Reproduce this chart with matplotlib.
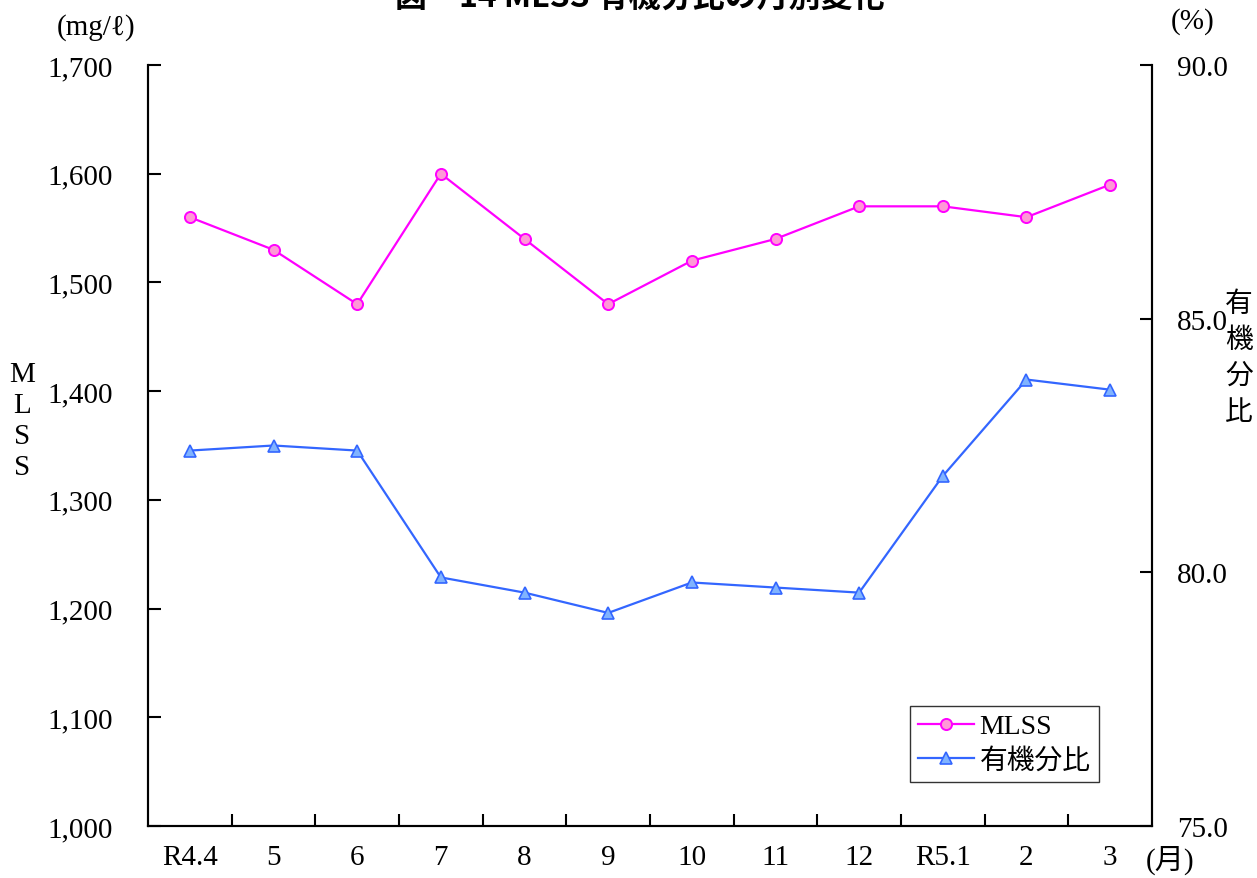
import matplotlib
matplotlib.use("Agg")
from matplotlib import pyplot as plt

plt.rcParams['font.family'] = ['Liberation Serif', 'Noto Sans CJK JP', 'DejaVu Serif']

# monthly data, FY R4 (Apr) .. R5 (Mar)
months = ["R4.4", "5", "6", "7", "8", "9", "10", "11", "12", "R5.1", "2", "3"]
mlss = [1560, 1530, 1480, 1600, 1540, 1480, 1520, 1540, 1570, 1570, 1560, 1590]
organic_ratio = [82.4, 82.5, 82.4, 79.9, 79.6, 79.2, 79.8, 79.7, 79.6, 81.9, 83.8, 83.6]

W, H = 1257, 879
fig = plt.figure(figsize=(W / 100, H / 100), dpi=100)
ax = fig.add_axes([148 / W, (H - 827) / H, 1004 / W, 761 / H])
ax2 = ax.twinx()

x = list(range(len(months)))
l1, = ax.plot(x, mlss, color="#FF00FF", lw=1.6, marker="o", ms=8,
              mfc="#FF99D6", mec="#FF00FF", mew=1.4, label="MLSS")
l2, = ax2.plot(x, organic_ratio, color="#3366FF", lw=1.6, marker="^", ms=8,
               mfc="#80B3FF", mec="#3366FF", mew=1.2, label="有機分比")

ax.set_xlim(-0.5, len(months) - 0.5)
ax.set_ylim(1000, 1700)
ax.set_yticks(range(1000, 1701, 100))
ax.set_yticklabels([f"{v:,}" for v in range(1000, 1701, 100)])
ax2.set_ylim(75, 90)
ax2.set_yticks([75, 80, 85, 90])
ax2.set_yticklabels([f"{v:.1f}" for v in [75, 80, 85, 90]])

# ticks between months, labels at month centres
ax.set_xticks([i + 0.5 for i in x[:-1]])
ax.set_xticklabels([])
ax.set_xticks(x, minor=True)
ax.set_xticklabels(months, minor=True)
ax.tick_params(axis="x", which="major", direction="in", length=9, width=1.5)
ax.tick_params(axis="x", which="minor", length=0, pad=13, labelsize=21)
ax.tick_params(axis="y", direction="in", length=9, width=1.5, pad=25, labelsize=21)
ax2.tick_params(axis="y", direction="in", length=9, width=1.5, pad=18, labelsize=21)

for a in (ax, ax2):
    for s in a.spines.values():
        s.set_linewidth(1.5)
    a.spines["top"].set_visible(False)

fig.text(22 / W, 1 - 422 / H, "M\nL\nS\nS", ha="center", va="center",
         fontsize=21, linespacing=1.25)
fig.text(1239 / W, 1 - 358 / H, "有\n機\n分\n比", ha="center", va="center",
         fontsize=20, linespacing=1.25, family=["Noto Sans CJK JP"])
fig.text(96 / W, 1 - 28 / H, "(mg/ℓ)", ha="center", va="center", fontsize=21)
fig.text(1193 / W, 1 - 22 / H, "(%)", ha="center", va="center", fontsize=21)
fig.text(1170 / W, 1 - 860 / H, "(月)", ha="center", va="center", fontsize=21)

# title sits at the very top edge
fig.text(640 / W, 1 - 7 / H, "図　14 MLSS 有機分比の月別変化", ha="center",
         va="baseline", fontsize=23, fontweight="bold",
         family=["Noto Sans CJK JP"])

leg = ax2.legend([l1, l2], ["MLSS", "有機分比"], loc="lower right",
                 bbox_to_anchor=(0.947, 0.058), fontsize=20, frameon=True,
                 fancybox=False, edgecolor="black", handlelength=2.0,
                 borderpad=0.3, labelspacing=0.3, handletextpad=0.2,
                 borderaxespad=0)
leg.get_frame().set_linewidth(1.0)

fig.savefig("out.png", dpi=100)
